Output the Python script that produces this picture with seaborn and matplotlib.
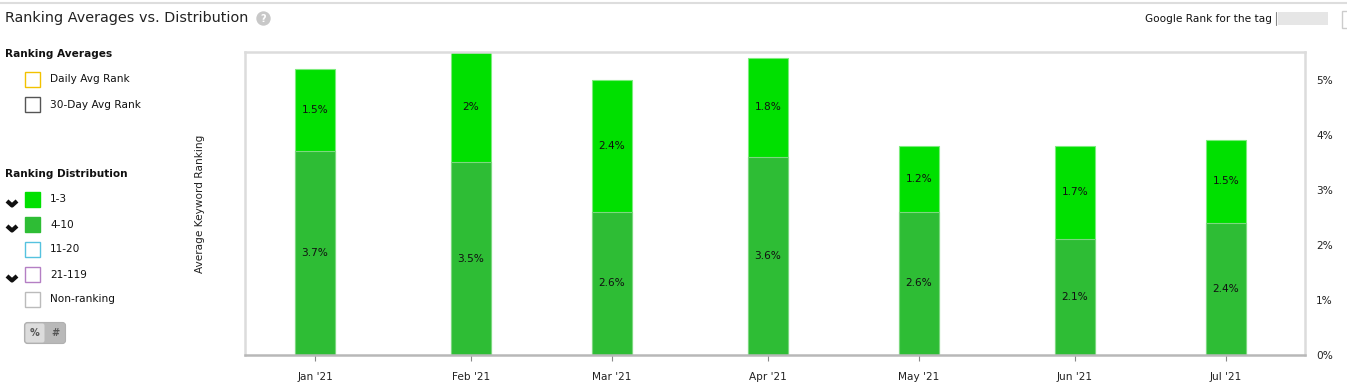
import numpy as np
import pandas as pd
import matplotlib
matplotlib.use("Agg")
import matplotlib.pyplot as plt
import seaborn as sns
from matplotlib.patches import Rectangle, FancyBboxPatch, Circle
from matplotlib.lines import Line2D
from matplotlib.ticker import FuncFormatter

# ---- data ----
months = ["Jan '21", "Feb '21", "Mar '21", "Apr '21", "May '21", "Jun '21", "Jul '21"]
month_day = [0, 31, 59, 90, 120, 151, 181]          # day of year of each month start
rank_4_10 = [3.7, 3.5, 2.6, 3.6, 2.6, 2.1, 2.4]    # % of keywords ranking 4-10
rank_1_3 = [1.5, 2.0, 2.4, 1.8, 1.2, 1.7, 1.5]     # % of keywords ranking 1-3
y_ticks = [0, 1, 2, 3, 4, 5]

legend_avg = ["Daily Avg Rank", "30-Day Avg Rank"]
legend_dist = ["1-3", "4-10", "11-20", "21-119", "Non-ranking"]

C_TOP = "#00e000"
C_LOW = "#2ebd35"
FS = 7.6

sns.set_theme(style="white")
plt.rcParams['font.family'] = ['DejaVu Sans']

W, H = 1347, 390
fig = plt.figure(figsize=(W / 100, H / 100), dpi=100)

df = pd.DataFrame({"day": month_day, "low": rank_4_10, "top": rank_1_3})
df["total"] = df["low"] + df["top"]

ax = fig.add_axes([245 / W, 1 - 355 / H, (1305 - 245) / W, (355 - 52) / H])
bw = 7.8 / 28.0
sns.barplot(data=df, x="day", y="total", native_scale=True, width=bw, color=C_TOP,
            saturation=1, errorbar=None, edgecolor="#7cec7c", linewidth=0.8, ax=ax)
sns.barplot(data=df, x="day", y="low", native_scale=True, width=bw, color=C_LOW,
            saturation=1, errorbar=None, edgecolor="#7cd87f", linewidth=0.8, ax=ax)

for d, lo, tp in zip(df["day"], df["low"], df["top"]):
    ax.text(d, lo / 2, f"{lo:g}%", ha="center", va="center", fontsize=FS, color="#111")
    ax.text(d, lo + tp / 2, f"{tp:g}%", ha="center", va="center", fontsize=FS, color="#111")

ax.set_xlim(-13.9, 196.7)
ax.set_ylim(0, 5.5)
ax.set_xticks(month_day)
ax.set_xticklabels(months)
ax.set_yticks(y_ticks)
ax.yaxis.set_major_formatter(FuncFormatter(lambda v, p: f"{v:g}%"))
ax.yaxis.tick_right()
ax.set_xlabel("")
ax.set_ylabel("")
ax.tick_params(axis="y", length=0, pad=8, labelsize=FS, colors="#222")
ax.tick_params(axis="x", length=4, width=0.8, color="#888", pad=8, labelsize=FS,
               labelcolor="#222", bottom=True)
for s in ["left", "top", "right"]:
    ax.spines[s].set_color("#dcdcdc")
    ax.spines[s].set_linewidth(1.8)
ax.spines["bottom"].set_color("#b8b8b8")
ax.spines["bottom"].set_linewidth(1.8)
ax.grid(False)

fig.text(200 / W, 1 - 204 / H, "Average Keyword Ranking", rotation=90, ha="center",
         va="center", fontsize=FS, color="#222")

# ---- overlay in pixel coords ----
ov = fig.add_axes([0, 0, 1, 1], zorder=-1)
ov.set_xlim(0, W)
ov.set_ylim(H, 0)
ov.axis("off")
ov.patch.set_alpha(0)

ov.add_line(Line2D([0, W], [2.5, 2.5], color="#dddddd", lw=1.5))
ov.text(5, 18, "Ranking Averages vs. Distribution", fontsize=10.4, va="center",
        ha="left", color="#222")
ov.add_patch(Circle((263.5, 18.5), 6.5, color="#c8c8c8"))
ov.text(263.5, 18.8, "?", fontsize=7, fontweight="bold", color="white", ha="center", va="center")

ov.text(1272, 18.5, "Google Rank for the tag", fontsize=FS, ha="right", va="center", color="#111")
ov.add_line(Line2D([1276, 1276], [12, 25], color="#888", lw=0.8))
ov.add_patch(Rectangle((1278, 12), 50, 13, color="#e6e6e6", lw=0))
ov.add_patch(Rectangle((1342, 11), 10, 17, facecolor="white", edgecolor="#cccccc", lw=1))

ov.text(5, 54, "Ranking Averages", fontsize=FS, fontweight="bold", va="center", color="#111")
avg_edges = ["#f2c200", "#555555"]
for i, (lab, ec) in enumerate(zip(legend_avg, avg_edges)):
    yc = 79.5 + 25 * i
    ov.add_patch(Rectangle((24.5, yc - 7.5), 15, 15, facecolor="white", edgecolor=ec, lw=1))
    ov.text(50, yc, lab, fontsize=FS, va="center", color="#111")

ov.text(5, 174, "Ranking Distribution", fontsize=FS, fontweight="bold", va="center", color="#111")
dist_face = [C_TOP, C_LOW, "white", "white", "white"]
dist_edge = [C_TOP, C_LOW, "#55c2df", "#b47fc4", "#bbbbbb"]
chevron = [True, True, False, True, False]
for i, (lab, fc, ec, ch) in enumerate(zip(legend_dist, dist_face, dist_edge, chevron)):
    yc = 199.5 + 25 * i
    ov.add_patch(Rectangle((24.5, yc - 7.5), 15, 15, facecolor=fc, edgecolor=ec, lw=1))
    ov.text(50, yc, lab, fontsize=FS, va="center", color="#111")
    if ch:
        ov.add_line(Line2D([7, 12, 17], [yc + 1.5, yc + 6, yc + 1.5], color="#111", lw=3,
                           solid_capstyle="butt", solid_joinstyle="round"))

ov.add_patch(FancyBboxPatch((24.5, 322.5), 41, 21, boxstyle="round,pad=0,rounding_size=3",
                            facecolor="#b9b9b9", edgecolor="#b0b0b0", lw=0.8))
ov.add_patch(FancyBboxPatch((25.5, 323.5), 19, 19, boxstyle="round,pad=0,rounding_size=2",
                            facecolor="#dcdcdc", edgecolor="none"))
ov.text(35, 333, "%", fontsize=7, fontweight="bold", ha="center", va="center", color="#555")
ov.text(55, 333, "#", fontsize=7, fontweight="bold", ha="center", va="center", color="#555")

fig.savefig("out.png", dpi=100, facecolor="white")
